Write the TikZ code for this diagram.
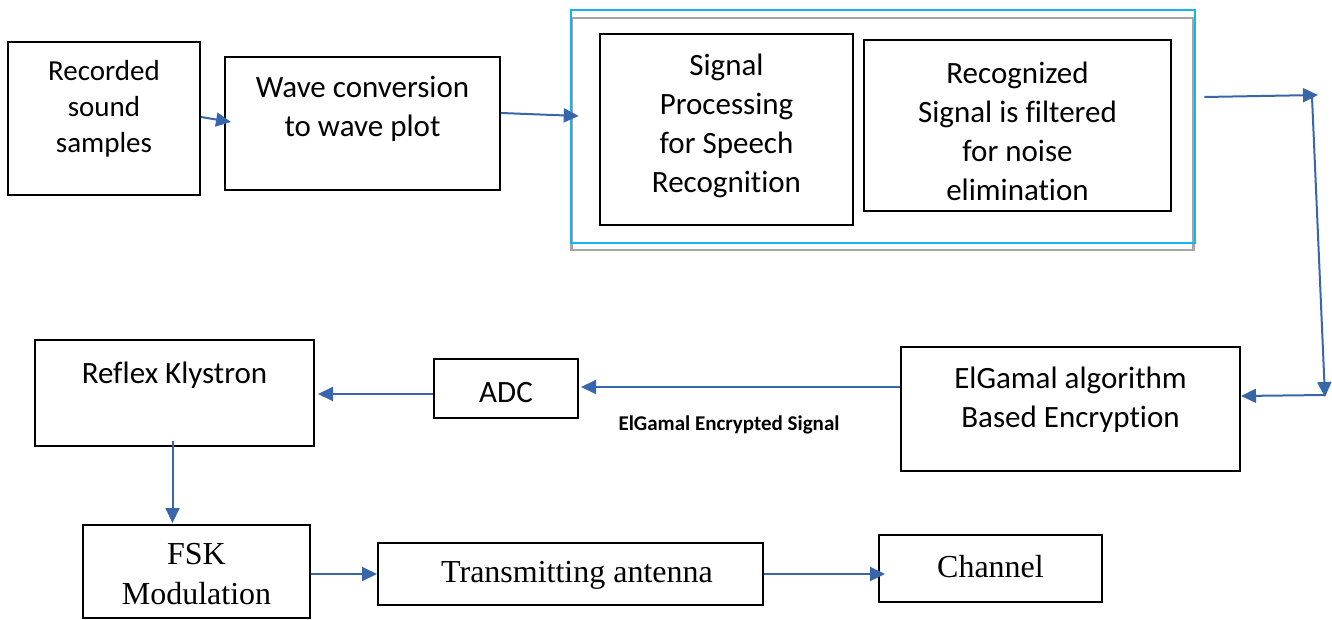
\documentclass[tikz,border=0pt]{standalone}
\usepackage{fontspec}
\setmainfont{Carlito}[RawFeature=-liga]
\newfontfamily\timesf{Liberation Serif}
\usetikzlibrary{arrows.meta,calc}
\definecolor{arrblue}{RGB}{56,102,170}
\definecolor{skyb}{RGB}{20,180,240}
\definecolor{greyb}{RGB}{165,165,165}
\begin{document}
\begin{tikzpicture}[x=1pt,y=-1pt,
  blk/.style={draw=black,line width=2pt,rectangle,inner sep=0pt},
  txt/.style={align=center,inner sep=0pt,font=\fontsize{31}{39}\selectfont},
  ttxt/.style={align=center,inner sep=0pt,font=\timesf\fontsize{32}{40}\selectfont},
  arr/.style={draw=arrblue,line width=2pt,-{Triangle[length=15pt,width=14pt]}}]
\useasboundingbox (0,0) rectangle (1332,620);
% top row
\node[blk,minimum width=192,minimum height=153] (b1) at (104,118.5) {};
\node[txt,font=\fontsize{29}{36}\selectfont] (t1) at (104,109) {Recorded\\sound\\samples};
\node[blk,minimum width=275,minimum height=133] (b2) at (362.5,123.5) {};
\node[txt] (t2) at (362.5,109) {Wave conversion\\to wave plot};
\node[draw=greyb,line width=2.5pt,minimum width=622,minimum height=232,inner sep=0pt] (grey) at (882.5,134) {};
\node[draw=skyb,line width=2.5pt,minimum width=624,minimum height=233,inner sep=0pt] (outer) at (883,126.5) {};
\node[blk,minimum width=253,minimum height=191] (ba) at (726.5,129.5) {};
\node[txt] (ta) at (726.5,126) {Signal\\Processing\\for Speech\\Recognition};
\node[blk,minimum width=307,minimum height=171] (bb) at (1017.5,125.5) {};
\node[txt] (tb) at (1017.5,131) {Recognized\\Signal is filtered\\for noise\\elimination};
% middle row
\node[blk,minimum width=339,minimum height=124] (eg) at (1070.5,409) {};
\node[txt] (teg) at (1070.5,400) {ElGamal algorithm\\Based Encryption};
\node[blk,minimum width=144,minimum height=59] (adc) at (506,388.5) {};
\node[txt] (tadc) at (506,393) {ADC};
\node[blk,minimum width=279,minimum height=106] (rk) at (174.5,393) {};
\node[txt] (trk) at (174.5,375) {Reflex Klystron};
\node[inner sep=0pt,font=\bfseries\fontsize{21}{24}\selectfont] (lab) at (729,425) {ElGamal Encrypted Signal};
% bottom row
\node[blk,minimum width=227,minimum height=93] (fsk) at (196.5,571.5) {};
\node[ttxt] (tfsk) at (196.5,574) {FSK\\Modulation};
\node[blk,minimum width=385,minimum height=62] (tx) at (570.5,574) {};
\node[ttxt] (ttx) at (577,575) {Transmitting antenna};
\node[blk,minimum width=223,minimum height=67] (ch) at (990.5,568.5) {};
\node[ttxt] (tch) at (990.5,567) {Channel};
% connectors
\coordinate (c1) at (1318,95);
\coordinate (c1s) at (1312,97);
\coordinate (c2) at (1325,397);
\draw[arr] ($(b1.east)+(0,-1.5)$) -- ($(b2.west)+(7,-1.5)$);
\draw[arr] ($(b2.east)+(0,-10.5)$) -- ($(outer.west)+(9,-10.5)$);
\draw[arr] ($(outer.east)+(8,-29.5)$) -- (c1);
\draw[arr] (c1s) -- (c2);
\draw[arr] ($(c2)+(0,-2)$) -- ($(eg.east)+(0,-13)$);
\draw[arr] ($(eg.west)+(0,-22)$) -- ($(adc.east)+(2,-1.5)$);
\draw[arr] ($(adc.west)+(0,5.5)$) -- ($(rk.east)+(3,1)$);
\draw[arr] ($(rk.south)+(-2,-6)$) -- ($(rk.south |- fsk.north)+(-2,-1)$);
\draw[arr] (fsk.east |- tx.west) -- (tx.west);
\draw[arr] (tx.east) -- ($(tx.east -| ch.west)+(7,0)$);
\end{tikzpicture}
\end{document}
